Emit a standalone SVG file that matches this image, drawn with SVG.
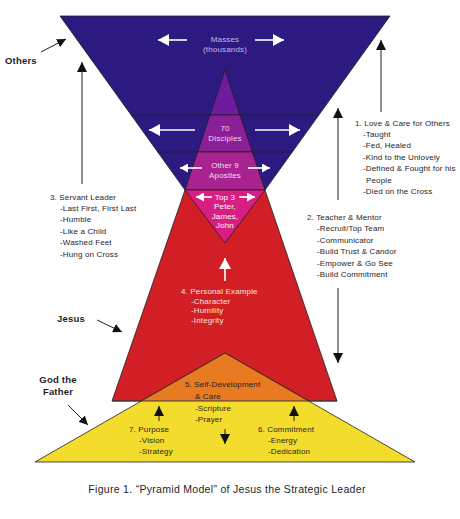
<svg xmlns="http://www.w3.org/2000/svg" width="460" height="519" viewBox="0 0 460 519">
<style>
text{font-family:"Liberation Sans",Arial,Helvetica,sans-serif;font-size:8px;letter-spacing:0.15px;fill:#1e1e1e}
.b{font-weight:bold;font-size:9.5px;letter-spacing:0.2px}
.c{text-anchor:middle}
.edge{stroke:#1e1e1e;stroke-width:0.8;stroke-linejoin:round}
.blk{stroke:#1e1e1e;stroke-width:1;fill:none}
.wht{stroke:#ffffff;stroke-width:1.6;fill:none}
</style>
<defs>
<marker id="ahB" markerUnits="userSpaceOnUse" markerWidth="10" markerHeight="10" refX="10" refY="5" orient="auto"><path d="M0,0 L10,5 L0,10 z" fill="#111"/></marker>
<marker id="ahBs" markerUnits="userSpaceOnUse" markerWidth="9" markerHeight="9" refX="9" refY="4.5" orient="auto"><path d="M0,0 L9,4.5 L0,9 z" fill="#111"/></marker>
<marker id="ahW" markerUnits="userSpaceOnUse" markerWidth="11" markerHeight="12" refX="11" refY="6" orient="auto"><path d="M0,0 L11,6 L0,12 z" fill="#fff"/></marker>
<marker id="ahWs" markerUnits="userSpaceOnUse" markerWidth="8" markerHeight="9" refX="8" refY="4.5" orient="auto"><path d="M0,0 L8,4.5 L0,9 z" fill="#fff"/></marker>
</defs>

<g id="others-band">
<polygon class="edge" points="60,16 390,16 265,190 185,190" fill="#2d1a80"/>
<line class="edge" x1="131" y1="115" x2="319" y2="115"/>
<line class="edge" x1="157.5" y1="152" x2="292.5" y2="152"/>
<text class="c" x="225" y="42" style="fill:#c6b6e8">Masses</text>
<text class="c" x="225" y="52" style="fill:#c6b6e8">(thousands)</text>
</g>

<g id="jesus-body">
<polygon class="edge" points="185,190 265,190 337,401 112,401" fill="#d21f26"/>
</g>

<g id="inner-apex">
<polygon class="edge" points="225,70 240,115 210,115" fill="#6c1c9c"/>
</g>
<g id="disciples">
<polygon class="edge" points="210,115 240,115 252.3,152 197.7,152" fill="#8b1f98"/>
<text class="c" x="225" y="131" style="fill:#f2d6f2">70</text>
<text class="c" x="225" y="141" style="fill:#f2d6f2">Disciples</text>
</g>
<g id="apostles">
<polygon class="edge" points="197.7,152 252.3,152 265,190 185,190" fill="#a8238f"/>
<text class="c" x="225" y="168" style="fill:#f6dcf0">Other 9</text>
<text class="c" x="225" y="178" style="fill:#f6dcf0">Apostles</text>
</g>
<g id="top3">
<polygon class="edge" points="185,190 265,190 225,243" fill="#d71e82"/>
<text class="c" x="225" y="199.5" style="fill:#fff">Top 3</text>
<text class="c" x="225" y="209" style="fill:#fff">Peter,</text>
<text class="c" x="225" y="218.5" style="fill:#fff">James,</text>
<text class="c" x="225" y="227.5" style="fill:#fff">John</text>
</g>

<g id="personal-example">
<text x="181" y="293.5" style="fill:#fde2d4">4. Personal Example</text>
<text x="191" y="303.5" style="fill:#fde2d4">-Character</text>
<text x="191" y="313" style="fill:#fde2d4">-Humility</text>
<text x="191" y="322.5" style="fill:#fde2d4">-Integrity</text>
</g>

<g id="god-the-father">
<polygon class="edge" points="225,353 415,462 35,462" fill="#f4dc2c"/>
</g>
<g id="self-development">
<polygon points="225,353 308.7,401 141.3,401" fill="#e87a22"/>
<polyline class="edge" fill="none" points="141.3,401 225,353 308.7,401"/>
<line x1="112" y1="401" x2="337" y2="401" stroke="#3a3a3a" stroke-width="1"/>
<text x="185" y="386.5">5. Self-Development</text>
<text x="195" y="398.5">&amp; Care</text>
<text x="195" y="410.5">-Scripture</text>
<text x="195" y="421.5">-Prayer</text>
</g>
<g id="purpose">
<text x="129" y="431.5">7. Purpose</text>
<text x="139" y="442.5">-Vision</text>
<text x="139" y="454">-Strategy</text>
</g>
<g id="commitment">
<text x="258" y="431.5">6. Commitment</text>
<text x="268" y="442.5">-Energy</text>
<text x="268" y="454">-Dedication</text>
</g>

<g id="label-others"><text class="b" x="5" y="64">Others</text></g>
<g id="label-jesus"><text class="b" x="57" y="322">Jesus</text></g>
<g id="label-god"><text class="b c" x="58" y="383">God the</text><text class="b c" x="58" y="395">Father</text></g>

<g id="servant-leader">
<text x="50" y="199.5">3. Servant Leader</text>
<text x="60" y="210.5">-Last First, First Last</text>
<text x="60" y="222">-Humble</text>
<text x="60" y="233.5">-Like a Child</text>
<text x="60" y="245">-Washed Feet</text>
<text x="60" y="256.5">-Hung on Cross</text>
</g>
<g id="love-care">
<text x="355" y="125.5">1. Love &amp; Care for Others</text>
<text x="363" y="136.5">-Taught</text>
<text x="363" y="148">-Fed, Healed</text>
<text x="363" y="159.5">-Kind to the Unlovely</text>
<text x="363" y="171">-Defined &amp; Fought for his</text>
<text x="366" y="182.5">People</text>
<text x="363" y="193.5">-Died on the Cross</text>
</g>
<g id="teacher-mentor">
<text x="307" y="219.5">2. Teacher &amp; Mentor</text>
<text x="317" y="231">-Recruit/Top Team</text>
<text x="317" y="242.5">-Communicator</text>
<text x="317" y="254">-Build Trust &amp; Candor</text>
<text x="317" y="265.5">-Empower &amp; Go See</text>
<text x="317" y="276.5">-Build Commitment</text>
</g>

<g id="connectors">
<line class="blk" x1="41" y1="52" x2="66" y2="39" marker-end="url(#ahBs)"/>
<line class="blk" x1="82" y1="184" x2="82" y2="62" marker-end="url(#ahB)"/>
<line class="blk" x1="97" y1="320" x2="122" y2="332" marker-end="url(#ahBs)"/>
<line class="blk" x1="68" y1="405" x2="88" y2="425" marker-end="url(#ahBs)"/>
<line class="blk" x1="381" y1="112" x2="381" y2="40" marker-end="url(#ahB)"/>
<line class="blk" x1="338" y1="200" x2="338" y2="108" marker-end="url(#ahB)"/>
<line class="blk" x1="338" y1="288" x2="338" y2="363" marker-end="url(#ahB)"/>
<line class="blk" x1="159" y1="421" x2="159" y2="406" marker-end="url(#ahB)"/>
<line class="blk" x1="294" y1="421" x2="294" y2="406" marker-end="url(#ahB)"/>
<line class="blk" x1="225" y1="429" x2="225" y2="444" marker-end="url(#ahB)"/>
<line class="wht" x1="225" y1="281" x2="225" y2="258" marker-end="url(#ahW)"/>
<line class="wht" x1="187" y1="40" x2="158" y2="40" marker-end="url(#ahW)"/>
<line class="wht" x1="255" y1="40" x2="284" y2="40" marker-end="url(#ahW)"/>
<line class="wht" x1="195" y1="130" x2="149" y2="130" marker-end="url(#ahW)"/>
<line class="wht" x1="255" y1="130" x2="300" y2="130" marker-end="url(#ahW)"/>
<line class="wht" x1="202" y1="168" x2="180" y2="168" marker-end="url(#ahWs)"/>
<line class="wht" x1="248" y1="168" x2="270" y2="168" marker-end="url(#ahWs)"/>
<line class="wht" x1="212" y1="197" x2="196" y2="197" marker-end="url(#ahWs)"/>
<line class="wht" x1="239" y1="197" x2="255" y2="197" marker-end="url(#ahWs)"/>
</g>

<g id="caption"><text class="c" x="227" y="493" style="font-size:10.5px;letter-spacing:0.3px">Figure 1. “Pyramid Model” of Jesus the Strategic Leader</text></g>
</svg>
